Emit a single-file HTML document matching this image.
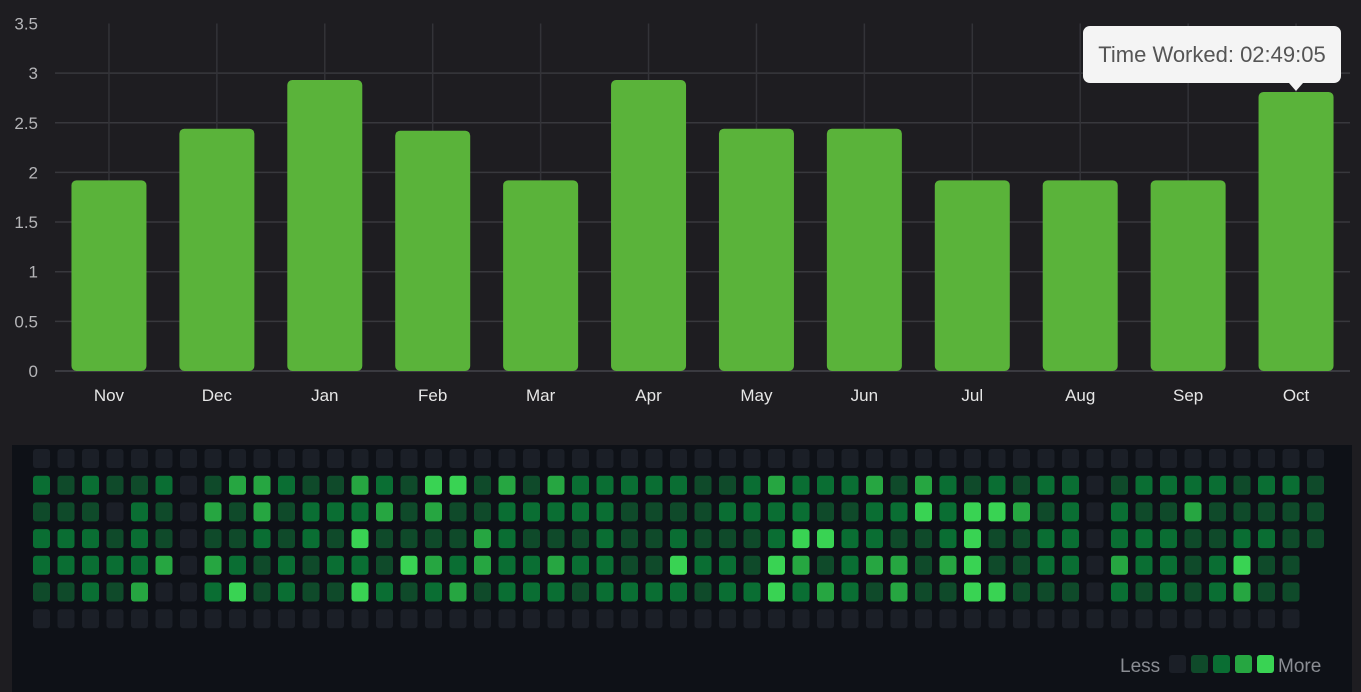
<!DOCTYPE html>
<html><head><meta charset="utf-8"><style>
html,body{margin:0;padding:0;background:#1e1d21;width:1361px;height:692px;overflow:hidden;font-family:"Liberation Sans",sans-serif}
svg{display:block}
</style></head><body>
<svg width="1361" height="692">
<rect x="0" y="0" width="1361" height="692" fill="#1e1d21"/>
<g id="chart"></g>
<rect x="12" y="445" width="1340" height="247" fill="#0e1117"/>
<g id="heat"></g>
<g>
<rect x="1083" y="26" width="258" height="57" rx="7" fill="#f4f4f4"/>
<path d="M1289 83 L1296 91 L1303 83 Z" fill="#f4f4f4"/>
<text x="1212" y="62" text-anchor="middle" font-size="22" fill="#555">Time Worked: 02:49:05</text>
</g>
<g>
<text x="1120" y="672" font-size="19" fill="#8a8d93">Less</text>
<text x="1278" y="672" font-size="19" fill="#8a8d93">More</text>
<g id="leg"></g>
</g>
</svg>
<script>
const months=["Nov","Dec","Jan","Feb","Mar","Apr","May","Jun","Jul","Aug","Sep","Oct"];
const hours=[1.92,2.44,2.93,2.42,1.92,2.93,2.44,2.44,1.92,1.92,1.92,2.81];
const yTicks=[0,0.5,1,1.5,2,2.5,3,3.5];
const heatRows=[
"00000000000000000000000000000000000000000000000000000",
"212112013321132144"+"13132222211232223"+"132121220122221221",
"111021031312223131"+"12222211112222112"+"242443120211311111",
"222121011212141111"+"32111211211124422"+"112411220222112211",
"222223032121221432"+"32232211422143123"+"31341122032212411_",
"112130024121142123"+"12221222212242321"+"31144111021212311_",
"0000000000000000000000000000000000000000000000000000_"
];
const heatColors=["#1b1f27","#0f4a2a","#0a6e33","#26a641","#39d353"];
const NS="http://www.w3.org/2000/svg";
const ch=document.getElementById('chart');
const x0=55,x1=1350,y0=371,unit=99.3;
const band=(x1-x0)/months.length;
const ys=v=>y0-v*unit;
const xs=i=>x0+band*(i+0.5);
yTicks.forEach(t=>{
 if(t>0&&t<3.5){const l=document.createElementNS(NS,'line');
 l.setAttribute('x1',x0);l.setAttribute('x2',x1);l.setAttribute('y1',ys(t));l.setAttribute('y2',ys(t));
 l.setAttribute('stroke','#38383d');l.setAttribute('stroke-width','1.5');
 
 
 ch.appendChild(l);}
 const tx=document.createElementNS(NS,'text');
 tx.setAttribute('x',38);tx.setAttribute('y',ys(t)+6);tx.setAttribute('text-anchor','end');
 tx.setAttribute('font-size','17');tx.setAttribute('fill','#b5b5b8');tx.textContent=t;
 
 
 ch.appendChild(tx);
});
const base=document.createElementNS(NS,'line');
base.setAttribute('x1',x0);base.setAttribute('x2',x1);base.setAttribute('y1',y0);base.setAttribute('y2',y0);
base.setAttribute('stroke','#44444a');base.setAttribute('stroke-width','1.5');


ch.appendChild(base);
months.forEach((m,i)=>{
 const g=document.createElementNS(NS,'line');
 g.setAttribute('x1',xs(i));g.setAttribute('x2',xs(i));g.setAttribute('y1',ys(3.5));g.setAttribute('y2',y0);
 g.setAttribute('stroke','#333338');g.setAttribute('stroke-width','1.5');
 
 
 ch.appendChild(g);
});
months.forEach((m,i)=>{
 const r=document.createElementNS(NS,'rect');
 const w=75,top=ys(hours[i]);
 r.setAttribute('x',xs(i)-w/2);r.setAttribute('y',top);r.setAttribute('width',w);r.setAttribute('height',y0-top);
 r.setAttribute('rx',5);r.setAttribute('fill','#5ab33a');
 
 
 ch.appendChild(r);
 const t=document.createElementNS(NS,'text');
 t.setAttribute('x',xs(i));t.setAttribute('y',401);t.setAttribute('text-anchor','middle');
 t.setAttribute('font-size','17');t.setAttribute('fill','#e6e6e6');t.textContent=m;
 
 
 ch.appendChild(t);
});
const hg=document.getElementById('heat');
heatRows.forEach((row,r)=>{
 for(let c=0;c<row.length;c++){
  const ch2=row[c]; if(ch2==='_')continue;
  const lv=+ch2;
  const e=document.createElementNS(NS,'rect');
  e.setAttribute('x',33+c*24.5);e.setAttribute('y',449+r*26.7);
  e.setAttribute('width',17);e.setAttribute('height',19);e.setAttribute('rx',3);
  e.setAttribute('fill',heatColors[lv]);
  
  
  hg.appendChild(e);
 }
});
const lg=document.getElementById('leg');
[0,1,2,3,4].forEach((lv,k)=>{
 const e=document.createElementNS(NS,'rect');
 e.setAttribute('x',1169+k*22);e.setAttribute('y',655);e.setAttribute('width',17);e.setAttribute('height',18);e.setAttribute('rx',3);
 e.setAttribute('fill',heatColors[lv]);
 
 
 lg.appendChild(e);
});
</script>
</body></html>
